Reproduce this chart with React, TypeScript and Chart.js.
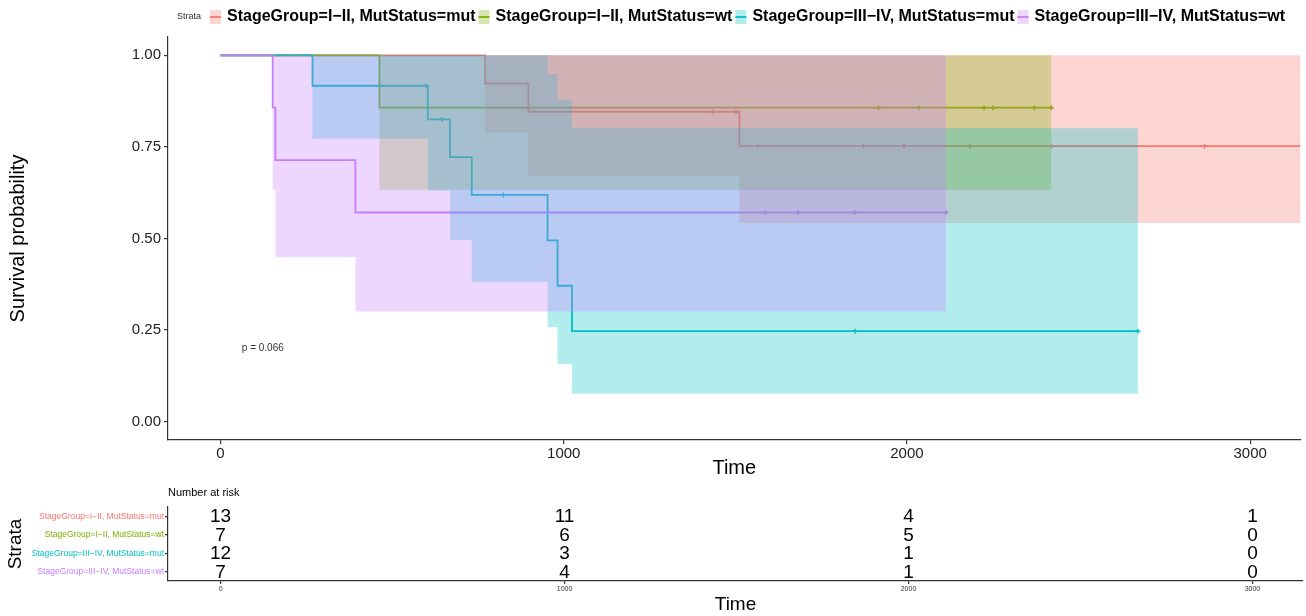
import React, { useEffect, useRef } from "react";
import { Chart, registerables } from "chart.js";
Chart.register(...registerables);

const FONT = "'Liberation Sans', Arial, Helvetica, sans-serif";

const strataLabels = [
  "StageGroup=I−II, MutStatus=mut",
  "StageGroup=I−II, MutStatus=wt",
  "StageGroup=III−IV, MutStatus=mut",
  "StageGroup=III−IV, MutStatus=wt",
];
const strataColors = ["#F8766D", "#7CAE00", "#00BFC4", "#C77CFF"];

// Stratum 1: StageGroup=I−II, MutStatus=mut
const redTime = [0, 771, 897, 1512, 3147];
const redSurv = [1, 0.923, 0.846, 0.752, 0.752];
const redLower = [1, 0.789, 0.671, 0.542, 0.542];
const redUpper = [1, 1, 1, 1, 1];
const redCensor = [1435, 1502, 1565, 1873, 1990, 1993, 2184, 2421, 2867];

// Stratum 2: StageGroup=I−II, MutStatus=wt
const greenTime = [0, 463, 2421];
const greenSurv = [1, 0.857, 0.857];
const greenLower = [1, 0.633, 0.633];
const greenUpper = [1, 1, 1];
const greenCensor = [1917, 2035, 2225, 2251, 2371, 2421];

// Stratum 3: StageGroup=III−IV, MutStatus=mut
const cyanTime = [0, 268, 604, 669, 732, 953, 982, 1024, 2673];
const cyanSurv = [1, 0.917, 0.825, 0.722, 0.619, 0.495, 0.371, 0.247, 0.247];
const cyanLower = [1, 0.773, 0.631, 0.496, 0.382, 0.258, 0.157, 0.076, 0.076];
const cyanUpper = [1, 1, 1, 1, 1, 0.949, 0.879, 0.801, 0.801];
const cyanCensor = [599, 645, 824, 1849, 2673];

// Stratum 4: StageGroup=III−IV, MutStatus=wt
const purpleTime = [0, 152, 160, 393, 2114];
const purpleSurv = [1, 0.857, 0.714, 0.571, 0.571];
const purpleLower = [1, 0.633, 0.449, 0.301, 0.301];
const purpleUpper = [1, 1, 1, 1, 1];
const purpleCensor = [1588, 1682, 1849, 2114];

const xTicks = [0, 1000, 2000, 3000];
const yTicks = [0, 0.25, 0.5, 0.75, 1];

const riskTimes = [0, 1000, 2000, 3000];
const riskRed = [13, 11, 4, 1];
const riskGreen = [7, 6, 5, 0];
const riskCyan = [12, 3, 1, 0];
const riskPurple = [7, 4, 1, 0];

const pValueText = "p = 0.066";

const X_MIN = -153;
const X_MAX = 3147;

function rgba(hex: string, a: number) {
  const n = parseInt(hex.slice(1), 16);
  return `rgba(${(n >> 16) & 255},${(n >> 8) & 255},${n & 255},${a})`;
}

function stepValue(times: number[], vals: number[], t: number) {
  let v = vals[0];
  for (let i = 0; i < times.length; i++) if (times[i] <= t) v = vals[i];
  return v;
}

const curves = [
  { time: redTime, surv: redSurv, lower: redLower, upper: redUpper, censor: redCensor },
  { time: greenTime, surv: greenSurv, lower: greenLower, upper: greenUpper, censor: greenCensor },
  { time: cyanTime, surv: cyanSurv, lower: cyanLower, upper: cyanUpper, censor: cyanCensor },
  { time: purpleTime, surv: purpleSurv, lower: purpleLower, upper: purpleUpper, censor: purpleCensor },
];
const riskRows = [riskRed, riskGreen, riskCyan, riskPurple];

const legendPlugin = {
  id: "kmLegend",
  afterDraw(chart: any) {
    const ctx = chart.ctx;
    ctx.save();
    ctx.textBaseline = "middle";
    ctx.textAlign = "left";
    ctx.fillStyle = "#333";
    ctx.font = `9px ${FONT}`;
    ctx.fillText("Strata", 177, 17);
    let x = 210;
    ctx.font = `bold 16px ${FONT}`;
    strataLabels.forEach((lab, i) => {
      ctx.fillStyle = rgba(strataColors[i], 0.3);
      ctx.fillRect(x, 10, 11, 14);
      ctx.strokeStyle = strataColors[i];
      ctx.lineWidth = 1.8;
      ctx.beginPath();
      ctx.moveTo(x, 17);
      ctx.lineTo(x + 11, 17);
      ctx.stroke();
      ctx.fillStyle = "#000";
      const tx = x + 17;
      ctx.fillText(lab, tx, 17);
      x = tx + ctx.measureText(lab).width + 3;
    });
    // p-value annotation
    const xs = chart.scales.x;
    const ys = chart.scales.y;
    ctx.font = `10px ${FONT}`;
    ctx.fillStyle = "#333";
    ctx.fillText(pValueText, xs.getPixelForValue(62), ys.getPixelForValue(0.2));
    ctx.restore();
  },
};

const riskPlugin = {
  id: "riskText",
  afterDraw(chart: any) {
    const ctx = chart.ctx;
    const xs = chart.scales.x;
    const ys = chart.scales.y;
    ctx.save();
    ctx.fillStyle = "#000";
    ctx.textAlign = "left";
    ctx.textBaseline = "middle";
    ctx.font = `11px ${FONT}`;
    ctx.fillText("Number at risk", chart.chartArea.left, 13);
    ctx.textAlign = "center";
    ctx.font = `19px ${FONT}`;
    riskRows.forEach((row, i) => {
      row.forEach((n, k) => {
        ctx.fillText(String(n), xs.getPixelForValue(riskTimes[k]), ys.getPixelForValue(i) + 1);
      });
    });
    ctx.restore();
  },
};

export default function App() {
  const mainRef = useRef<HTMLCanvasElement>(null);
  const riskRef = useRef<HTMLCanvasElement>(null);

  useEffect(() => {
    const datasets: any[] = [];
    curves.forEach((c, i) => {
      datasets.push({
        type: "line",
        label: strataLabels[i],
        data: c.time.map((t, k) => ({ x: t, y: c.surv[k] })),
        borderColor: strataColors[i],
        borderWidth: 1.8,
        stepped: true,
        pointRadius: 0,
        fill: false,
        order: 60 - i,
      });
      datasets.push({
        type: "scatter",
        data: c.censor.map((t) => ({ x: t, y: stepValue(c.time, c.surv, t) })),
        pointStyle: "cross",
        pointRadius: 2.5,
        borderColor: strataColors[i],
        backgroundColor: strataColors[i],
        borderWidth: 1.4,
        showLine: false,
        order: 60 - i,
      });
    });
    const bandOrder = [40, 30, 20, 10];
    curves.forEach((c, i) => {
      datasets.push({
        type: "line",
        data: c.time.map((t, k) => ({ x: t, y: c.upper[k] })),
        borderColor: "rgba(0,0,0,0)",
        borderWidth: 0,
        pointRadius: 0,
        stepped: true,
        fill: false,
        order: bandOrder[i],
      });
      datasets.push({
        type: "line",
        data: c.time.map((t, k) => ({ x: t, y: c.lower[k] })),
        borderColor: "rgba(0,0,0,0)",
        borderWidth: 0,
        pointRadius: 0,
        stepped: true,
        fill: "-1",
        backgroundColor: rgba(strataColors[i], 0.3),
        order: bandOrder[i],
      });
    });

    const axisColor = "#333";
    const main = new Chart(mainRef.current!, {
      type: "line",
      data: { datasets },
      plugins: [legendPlugin],
      options: {
        responsive: false,
        animation: false,
        events: [],
        layout: { padding: { left: 0, right: 3, top: 37, bottom: 0 } },
        plugins: { legend: { display: false }, tooltip: { enabled: false }, title: { display: false } },
        scales: {
          x: {
            type: "linear",
            min: X_MIN,
            max: X_MAX,
            afterBuildTicks: (s: any) => {
              s.ticks = xTicks.map((v) => ({ value: v }));
            },
            afterFit: (s: any) => {
              s.height = 40;
            },
            ticks: {
              callback: (v: any) => String(v),
              font: { family: FONT, size: 15 },
              color: "#222",
              padding: 1,
              maxRotation: 0,
              autoSkip: false,
            },
            grid: { drawOnChartArea: false, drawTicks: true, tickLength: 4, color: axisColor, lineWidth: 1.2 },
            border: { display: true, color: axisColor, width: 1.2 },
            title: { display: true, text: "Time", font: { family: FONT, size: 20 }, color: "#000", padding: { top: 0, bottom: 0 } },
          },
          y: {
            type: "linear",
            min: -0.05,
            max: 1.05,
            afterBuildTicks: (s: any) => {
              s.ticks = yTicks.map((v) => ({ value: v }));
            },
            afterFit: (s: any) => {
              s.width = 168;
            },
            ticks: {
              callback: (v: any) => Number(v).toFixed(2),
              font: { family: FONT, size: 15 },
              color: "#222",
              padding: 3,
            },
            grid: { drawOnChartArea: false, drawTicks: true, tickLength: 4, color: axisColor, lineWidth: 1.2 },
            border: { display: true, color: axisColor, width: 1.2 },
            title: { display: true, text: "Survival probability", font: { family: FONT, size: 20 }, color: "#000", padding: { top: 6, bottom: 0 } },
          },
        },
      } as any,
    });

    const risk = new Chart(riskRef.current!, {
      type: "scatter",
      data: { datasets: [{ data: [], pointRadius: 0 }] },
      plugins: [riskPlugin],
      options: {
        responsive: false,
        animation: false,
        events: [],
        layout: { padding: { left: 0, right: 3, top: 27, bottom: 0 } },
        plugins: { legend: { display: false }, tooltip: { enabled: false } },
        scales: {
          x: {
            type: "linear",
            min: X_MIN,
            max: X_MAX,
            afterBuildTicks: (s: any) => {
              s.ticks = riskTimes.map((v) => ({ value: v }));
            },
            afterFit: (s: any) => {
              s.height = 35;
            },
            ticks: {
              callback: (v: any) => String(v),
              font: { family: FONT, size: 7 },
              color: "#333",
              padding: 1,
              maxRotation: 0,
              autoSkip: false,
            },
            grid: { drawOnChartArea: false, drawTicks: true, tickLength: 3, color: axisColor, lineWidth: 1.2 },
            border: { display: true, color: axisColor, width: 1.2 },
            title: { display: true, text: "Time", font: { family: FONT, size: 19 }, color: "#000", padding: { top: 0, bottom: 0 } },
          },
          y: {
            type: "category",
            labels: strataLabels,
            offset: true,
            afterFit: (s: any) => {
              s.width = 168;
            },
            ticks: {
              font: { family: FONT, size: 8.5 },
              color: (ctx: any) => strataColors[ctx.index] || "#333",
              padding: 1,
              autoSkip: false,
            },
            grid: { drawOnChartArea: false, drawTicks: true, tickLength: 3, offset: false, color: axisColor, lineWidth: 1.2 },
            border: { display: true, color: axisColor, width: 1.2 },
            title: { display: true, text: "Strata", font: { family: FONT, size: 19 }, color: "#000", padding: { top: 4, bottom: 0 } },
          },
        },
      } as any,
    });

    return () => {
      main.destroy();
      risk.destroy();
    };
  }, []);

  return (
    <div style={{ position: "fixed", left: 0, top: 0, width: 1306, height: 616, background: "#fff" }}>
      <canvas ref={mainRef} width={1306} height={480} style={{ display: "block", width: 1306, height: 480 }} />
      <canvas ref={riskRef} width={1306} height={136} style={{ display: "block", width: 1306, height: 136 }} />
    </div>
  );
}
